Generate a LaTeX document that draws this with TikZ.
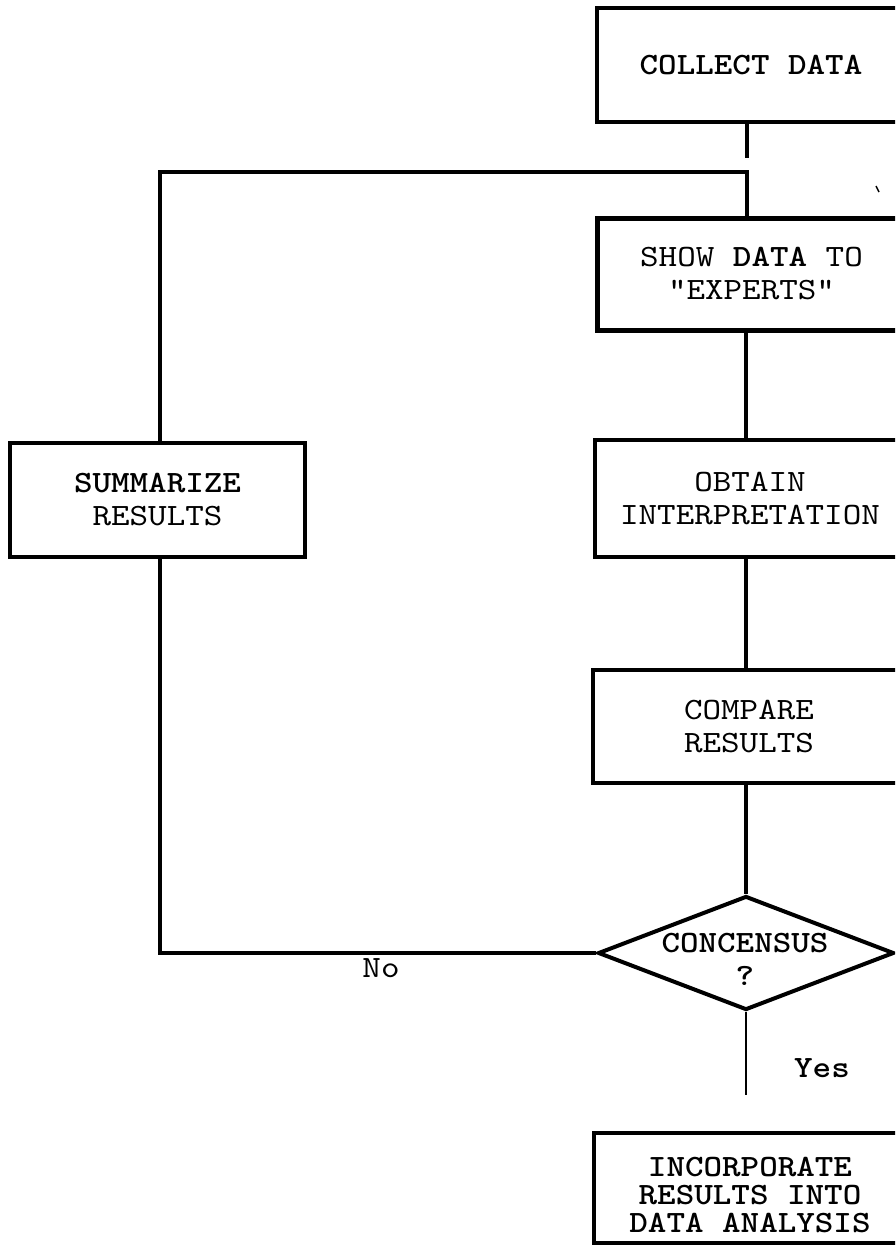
\documentclass[tikz,border=0pt]{standalone}
\usepackage{fontspec}
\newfontfamily\mono{lmmono10-regular}[Extension=.otf,BoldFont=lmmonolt10-bold,FakeStretch=1.14]
\usetikzlibrary{shapes.geometric}
\begin{document}
\begin{tikzpicture}[x=1pt,y=-1pt,
  box/.style={draw,line width=4pt,rectangle,inner sep=0pt,align=center,
    font=\mono\fontsize{31}{33}\selectfont},
  conn/.style={line width=3.5pt},
  thinconn/.style={line width=1.5pt},
  lbl/.style={font=\mono\fontsize{31}{33}\selectfont,align=center,inner sep=0pt}]
\useasboundingbox (0,0) rectangle (895,1247);
\clip (0,0) rectangle (895,1247);
\node[box,minimum width=308pt,minimum height=114pt] (collect) at (751,65) {\textbf{COLLECT DATA}};
\node[box,line width=5pt,minimum width=308pt,minimum height=112pt] (show) at (751.5,274) {SHOW \textbf{DATA} TO\\"EXPERTS"};
\node[box,minimum width=310pt,minimum height=117pt] (obtain) at (750,498.5) {OBTAIN\\INTERPRETATION};
\node[box,line width=3.5pt,minimum width=312pt,minimum height=113pt] (compare) at (749,726.5) {COMPARE\\RESULTS};
\node[draw,diamond,line width=4pt,minimum width=296pt,minimum height=114pt,aspect=2.6,inner sep=0pt] (dec) at (746,953) {};
\node[lbl] (dectext) at (745,959) {\textbf{CONCENSUS}\\\textbf{?}};
\node[box,line width=3.5pt,minimum width=311pt,minimum height=110pt] (incorp) at (749.5,1188) {};
\node[lbl,font=\mono\fontsize{31}{28}\selectfont] (incorptext) at (750,1195) {\textbf{INCORPORATE}\\\textbf{RESULTS INTO}\\\textbf{DATA ANALYSIS}};
\node[box,minimum width=295pt,minimum height=114pt] (sum) at (157.5,500) {\textbf{SUMMARIZE}\\RESULTS};
\node[lbl] (no) at (381,968) {No};
\node[lbl] (yes) at (822,1068) {\textbf{Yes}};
\coordinate (joint) at (747,172);
\coordinate (collectend) at (747,158);
\coordinate (yesend) at (746,1095);
\draw[conn] (collect.south -| joint) -- (collectend);
\draw[conn] (sum.north -| 160,0) -- (160,172) -- (joint) -- (show.north -| joint);
\draw[conn] (show.south -| 746,0) -- (obtain.north -| 746,0);
\draw[conn] (obtain.south -| 746,0) -- (compare.north -| 746,0);
\draw[conn] (compare.south -| dec.north) -- (dec.north);
\draw[conn] (dec.west) -- (160,953) -- (sum.south -| 160,0);
\draw[thinconn] (dec.south) -- (yesend);
\draw[line width=1.5pt] (876,186) -- (879,192);
\end{tikzpicture}
\end{document}
